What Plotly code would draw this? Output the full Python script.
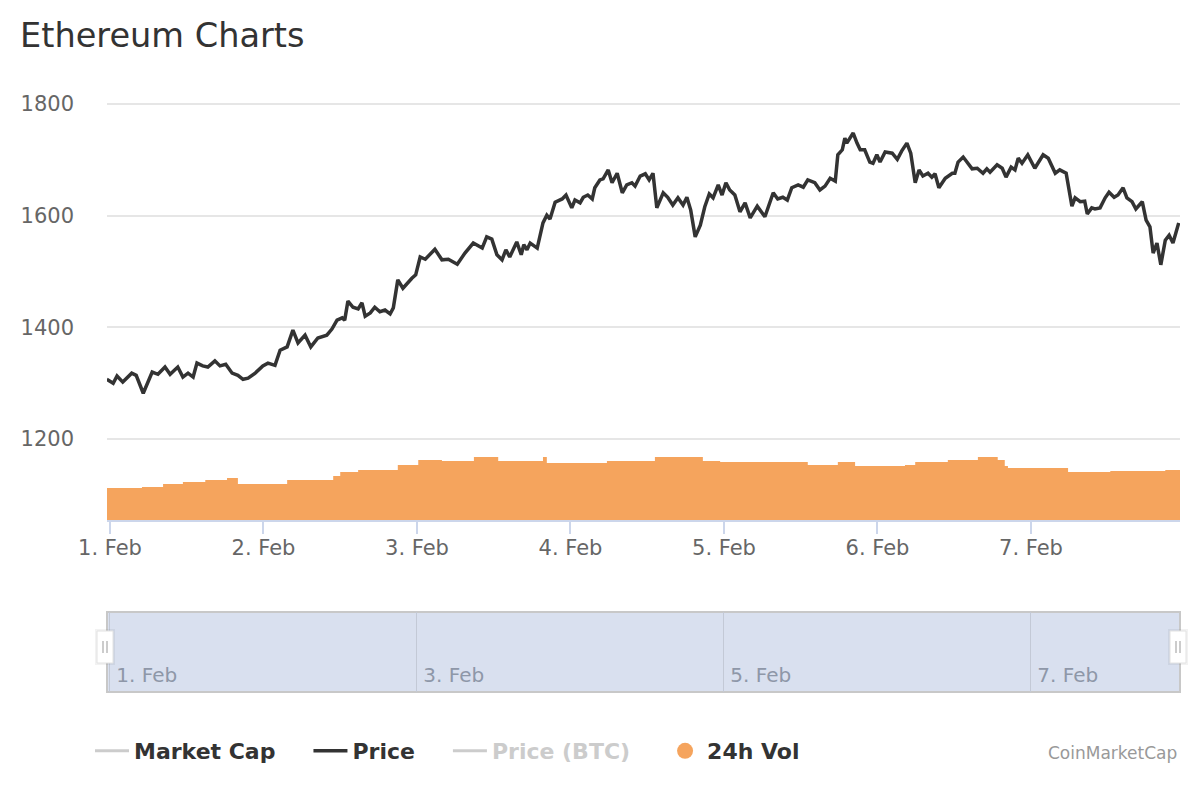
import pandas as pd
import plotly.graph_objects as go

# Ethereum price / volume, 1-7 Feb 2021 (hours counted from 1 Feb 00:00)
price_hours = [
    -0.5, 0.5, 1.1, 2.0, 3.4, 4.1, 5.2, 6.6, 7.5, 8.6,
    9.4, 10.6, 11.4, 12.2, 13.0, 13.6, 14.5, 15.3, 16.4, 17.2,
    18.1, 19.1, 20.0, 20.8, 21.6, 22.7, 23.9, 24.7, 25.8, 26.6,
    27.7, 28.6, 29.4, 30.5, 31.4, 32.5, 33.9, 34.7, 35.5, 36.3,
    36.7, 37.2, 38.0, 38.8, 39.4, 39.9, 40.7, 41.4, 42.2, 43.0,
    43.8, 44.3, 45.0, 45.8, 47.2, 47.8, 48.5, 49.3, 50.8, 51.9,
    52.9,
    54.3, 55.5, 56.8, 58.2, 58.9, 59.7, 60.5, 61.3, 61.9, 62.5,
    63.6, 64.3, 64.7, 65.2, 65.7, 66.8, 67.7, 68.3, 68.8, 69.6,
    70.7, 71.3, 72.2, 72.7, 73.5, 74.0, 74.7, 75.4, 75.8, 76.6,
    77.1, 77.9, 78.5, 79.3, 80.1, 80.8, 81.6, 82.1, 82.9, 83.7,
    84.3, 84.9, 85.5, 86.5, 87.2, 88.0, 88.8, 89.6, 90.2, 90.8,
    91.5, 92.3, 93.0, 93.7, 94.3, 95.1, 95.7, 96.3, 96.9, 97.7,
    98.5, 99.3, 100.1, 101.2, 102.4, 103.7, 104.4, 105.2, 105.9, 106.6,
    107.6, 108.4, 109.1, 110.2, 111.0, 111.8, 112.6,
    113.4, 113.8, 114.5, 114.9, 115.2, 115.7, 116.2, 116.8, 117.3, 118.0,
    118.8, 119.3, 119.9, 120.4, 121.2, 122.3, 123.1, 123.8, 124.6, 125.2,
    125.9, 126.5, 127.1, 127.9, 128.5, 129.0, 129.6, 130.6, 131.7, 132.1,
    132.6, 133.4, 134.8, 135.6, 136.5, 137.1, 137.6, 138.7, 139.5, 140.1,
    140.9, 141.5, 142.0, 142.6, 143.5, 144.6, 145.9, 146.7, 147.8, 148.5,
    149.5, 150.4, 150.9, 151.7, 152.4, 152.8, 153.5, 154.0, 154.8, 155.6,
    156.2, 157.0, 157.6, 158.4, 159.0, 159.8, 160.4, 161.4, 162.0, 162.6,
    163.1, 163.7, 164.3, 165.0, 165.6, 166.2, 166.8, 167.1,
]
price_usd = [
    1307, 1300, 1313, 1302, 1318, 1314, 1282, 1320, 1316, 1329,
    1316, 1329, 1311, 1318, 1311, 1336, 1331, 1329, 1340, 1331,
    1334, 1318, 1314, 1307, 1309, 1318, 1331, 1336, 1332, 1359,
    1365, 1395, 1372, 1386, 1365, 1381, 1386, 1397, 1413, 1417,
    1413, 1447, 1436, 1433, 1444, 1420, 1426, 1436, 1428, 1431,
    1424, 1435, 1485, 1470, 1488, 1494, 1526, 1522, 1540, 1521,
    1522,
    1513, 1533, 1551, 1542, 1562, 1558, 1530, 1521, 1539, 1526,
    1553, 1530, 1548, 1539, 1551, 1542, 1587, 1601, 1594, 1624,
    1630, 1637, 1614, 1628, 1623, 1633, 1637, 1630, 1650, 1664,
    1666, 1682, 1659, 1676, 1641, 1655, 1659, 1653, 1671, 1675,
    1664, 1676, 1614, 1641, 1633, 1619, 1632, 1619, 1633, 1610,
    1562, 1583, 1616, 1639, 1632, 1655, 1637, 1659, 1646, 1637,
    1607, 1623, 1596, 1617, 1598, 1641, 1630, 1633, 1628, 1650,
    1655, 1651, 1664, 1659, 1646, 1653, 1667,
    1662, 1709, 1718, 1739, 1730, 1739, 1748, 1730, 1718, 1718,
    1696, 1694, 1709, 1696, 1714, 1712, 1701, 1716, 1730, 1712,
    1659, 1682, 1671, 1676, 1669, 1675, 1650, 1667, 1676, 1676,
    1696, 1705, 1684, 1685, 1676, 1684, 1678, 1691, 1685, 1669,
    1687, 1682, 1703, 1694, 1709, 1685, 1709, 1703, 1676, 1682,
    1676, 1617, 1632, 1625, 1626, 1603, 1614, 1612, 1614, 1632,
    1642, 1633, 1637, 1650, 1632, 1625, 1612, 1625, 1592, 1580,
    1533, 1551, 1512, 1556, 1565, 1551, 1574, 1587,
]

# 24h volume, billions USD (step values)
vol_hours = [
    -0.5, 5.0, 8.3, 11.4, 14.9, 18.3, 20.0, 27.7, 34.9, 36.0,
    38.8, 45.0, 48.2, 51.9, 56.9, 60.7, 67.7, 68.3, 77.7, 85.2,
    92.7, 95.4, 109.1, 113.8, 116.5, 124.3, 125.9, 131.0, 135.7, 138.8,
    139.9, 140.4, 149.8, 156.4, 165.0, 167.3,
]
vol_bn = [
    25.4, 26.2, 28.6, 30.2, 31.7, 33.3, 28.6, 31.7, 34.9, 38.1,
    39.7, 43.7, 47.6, 46.8, 50.0, 46.8, 50.0, 45.2, 46.8, 50.0,
    46.8, 46.0, 43.7, 46.0, 42.9, 43.7, 46.0, 47.6, 50.0, 47.6,
    42.9, 41.3, 38.1, 38.9, 39.7, 39.7,
]

price_ticks = [1200, 1400, 1600, 1800]

t0 = pd.Timestamp("2021-02-01")
price_time = t0 + pd.to_timedelta(price_hours, unit="h")
vol_time = t0 + pd.to_timedelta(vol_hours, unit="h")
x_range = [pd.Timestamp("2021-01-31 23:32"), pd.Timestamp("2021-02-07 23:18")]

FONT = "DejaVu Sans"
DARK = "#333333"
ORANGE = "#f5a45d"
PAD = "&nbsp;" * 4  # extra room between legend entries

# the page adds an 8px body margin, so the figure is 8px smaller each way
W, H = 1192, 792
ML, MR, MT, MB = 99, 20, 72, 108
PW, PH = W - ML - MR, H - MT - MB


def px_x(x):
    return (x - 8 - ML) / PW


def px_y(y):
    return (H - MB - (y - 8)) / PH


fig = go.Figure()

# volume area (own axis)
fig.add_trace(go.Scatter(
    x=vol_time, y=vol_bn, mode="lines", line=dict(color=ORANGE, width=0, shape="hv"),
    fill="tozeroy", fillcolor=ORANGE, yaxis="y2", showlegend=False, hoverinfo="skip",
))

# legend entries
fig.add_trace(go.Scatter(x=[None], y=[None], mode="lines", name="<b>Market Cap</b>" + PAD,
                         line=dict(color="#cccccc", width=3)))
fig.add_trace(go.Scatter(
    x=price_time, y=price_usd, mode="lines", name="<b>Price</b>" + PAD,
    line=dict(color=DARK, width=3.5),
))
fig.add_trace(go.Scatter(x=[None], y=[None], mode="lines",
                         name="<b><span style='color:#cccccc'>Price (BTC)</span></b>" + PAD,
                         line=dict(color="#cccccc", width=3)))
fig.add_trace(go.Scatter(x=[None], y=[None], mode="markers", name="<b>24h Vol</b>",
                         marker=dict(color=ORANGE, size=20, symbol="circle")))

# navigator series (hidden, keeps the navigator axis alive)
fig.add_trace(go.Scatter(
    x=price_time, y=price_usd, xaxis="x2", yaxis="y3", mode="lines",
    line=dict(width=0), opacity=0, showlegend=False, hoverinfo="skip",
))

# navigator mask and handles
shapes = [
    dict(type="rect", xref="x2 domain", yref="y3 domain", x0=0, x1=1, y0=0, y1=1,
         fillcolor="#d9e0ef", line=dict(color="#c8c8c8", width=2), layer="below"),
]
hy = px_y(647)
for anchor, cx in [(0, -2), (1, -2)]:
    shapes.append(dict(type="rect", xref="paper", yref="paper", xsizemode="pixel", ysizemode="pixel",
                       xanchor=anchor, yanchor=hy, x0=cx - 10, x1=cx + 10, y0=-18, y1=18,
                       fillcolor="rgba(0,0,0,0.05)", line=dict(width=0)))
    shapes.append(dict(type="rect", xref="paper", yref="paper", xsizemode="pixel", ysizemode="pixel",
                       xanchor=anchor, yanchor=hy, x0=cx - 8, x1=cx + 8, y0=-16, y1=16,
                       fillcolor="white", line=dict(color="#e2e2e2", width=1)))
    for dx in (-2, 2):
        shapes.append(dict(type="line", xref="paper", yref="paper", xsizemode="pixel", ysizemode="pixel",
                           xanchor=anchor, yanchor=hy, x0=cx + dx, x1=cx + dx, y0=-6, y1=6,
                           line=dict(color="#999999", width=1)))

fig.update_layout(
    width=W, height=H,
    margin=dict(l=ML, r=MR, t=MT, b=MB, autoexpand=False),
    paper_bgcolor="white", plot_bgcolor="white",
    font=dict(family=FONT, color="#666666"),
    title=dict(text="Ethereum Charts", xref="container", yref="container",
               x=12 / W, xanchor="left", y=1 - 27 / H, yanchor="middle",
               font=dict(family=FONT, size=33.6, color=DARK)),
    xaxis=dict(
        range=x_range, anchor="y", showgrid=False, zeroline=False,
        showline=True, linecolor="#ccd6eb", linewidth=2,
        ticks="outside", ticklen=12, tickwidth=2, tickcolor="#ccd6eb",
        tick0="2021-02-01", dtick=86400000, tickformat="%-d. %b",
        tickfont=dict(size=21, color="#666666"), ticklabelstandoff=-4,
    ),
    yaxis=dict(
        domain=[172 / PH, 1], range=[1055, 1843], tickvals=price_ticks,
        showgrid=True, gridcolor="#e6e6e6", gridwidth=2, zeroline=False, showline=False,
        tickfont=dict(size=21, color="#666666"), ticklabelstandoff=32,
    ),
    yaxis2=dict(overlaying="y", range=[0, 349.2], visible=False),
    xaxis2=dict(
        range=x_range, anchor="y3", showgrid=True, gridcolor="#c3c9d6", gridwidth=1,
        zeroline=False, showline=False, ticks="",
        tick0="2021-02-01", dtick=2 * 86400000, tickformat="%-d. %b",
        ticklabelposition="inside right", tickprefix="\u00a0",
        tickfont=dict(size=20, color="#8e97a8"),
    ),
    yaxis3=dict(domain=[0, 80 / PH], range=[0, 1], visible=False, fixedrange=True),
    shapes=shapes,
    legend=dict(
        orientation="h", xref="paper", yref="paper",
        x=px_x(90), y=px_y(751), xanchor="left", yanchor="middle",
        itemwidth=34,
        font=dict(family=FONT, size=22, color=DARK), bgcolor="rgba(0,0,0,0)",
    ),
    annotations=[dict(
        text="CoinMarketCap", xref="paper", yref="paper",
        x=px_x(1179), xanchor="right", y=px_y(753), yanchor="middle",
        showarrow=False, font=dict(family=FONT, size=17, color="#999999"),
    )],
    showlegend=True,
)

fig.write_html("out.html", config={"displayModeBar": False})
